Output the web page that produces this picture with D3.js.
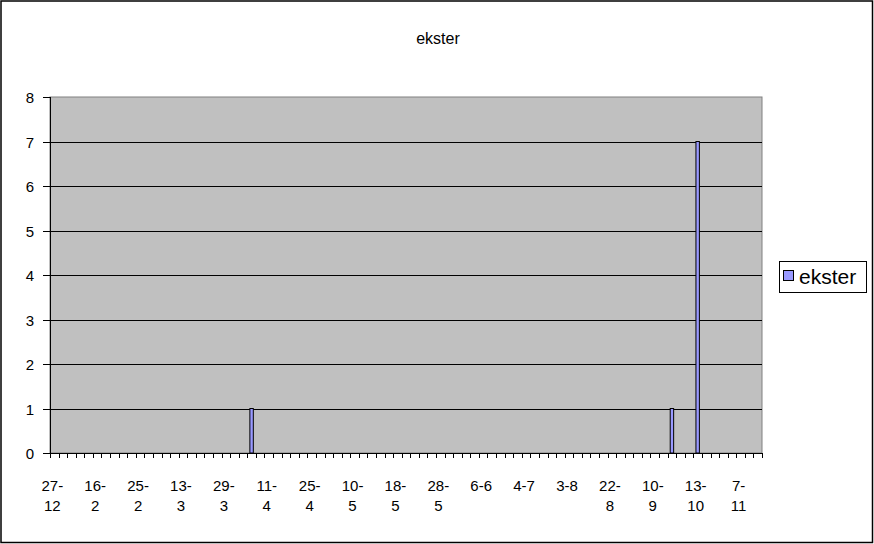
<!DOCTYPE html>
<html>
<head>
<meta charset="utf-8">
<script src="https://cdn.jsdelivr.net/npm/d3@7"></script>
<style>
  html, body { margin: 0; padding: 0; background: #fff; }
  text { font-family: Arial, "Liberation Sans", sans-serif; fill: #000; }
</style>
</head>
<body>
<svg id="chart" width="874" height="544"></svg>
<script>
const title = "ekster";
const seriesName = "ekster";
const categories = [
  "27-12","5-1","12-1","26-1","8-2","16-2","18-2","20-2","22-2","23-2",
  "25-2","28-2","3-3","6-3","10-3","13-3","16-3","19-3","23-3","26-3",
  "29-3","1-4","3-4","5-4","8-4","11-4","14-4","17-4","20-4","22-4",
  "25-4","28-4","1-5","4-5","7-5","10-5","12-5","13-5","15-5","17-5",
  "18-5","20-5","22-5","24-5","26-5","28-5","30-5","1-6","3-6","4-6",
  "6-6","12-6","18-6","24-6","29-6","4-7","10-7","16-7","22-7","28-7",
  "3-8","7-8","11-8","15-8","19-8","22-8","26-8","30-8","3-9","7-9",
  "10-9","13-9","17-9","23-9","30-9","13-10","18-10","22-10","27-10","2-11",
  "7-11","14-11","21-11"
];
const values = [
  0,0,0,0,0,0,0,0,0,0,
  0,0,0,0,0,0,0,0,0,0,
  0,0,0,1,0,0,0,0,0,0,
  0,0,0,0,0,0,0,0,0,0,
  0,0,0,0,0,0,0,0,0,0,
  0,0,0,0,0,0,0,0,0,0,
  0,0,0,0,0,0,0,0,0,0,
  0,0,1,0,0,7,0,0,0,0,
  0,0,0
];
const yTicks = [0,1,2,3,4,5,6,7,8];
const labelEvery = 5;

const svg = d3.select("#chart");
const W = 874, H = 544;
const plot = {left: 50, right: 762, top: 97, bottom: 453};
const AX = 15.5, SX = 0.97;

// chart border
svg.append("rect").attr("x", 1).attr("y", 1).attr("width", W - 2.5).attr("height", H - 2.5)
  .attr("fill", "#fff").attr("stroke", "#000").attr("stroke-width", 1.5);

// title
svg.append("text").attr("x", 438).attr("y", 44).attr("text-anchor", "middle")
  .style("font-size", "16px").text(title);

const x = d3.scaleBand().domain(d3.range(categories.length))
  .range([plot.left, plot.right]).paddingInner(0.6).paddingOuter(0.3);
const y = d3.scaleLinear().domain([0, 8]).range([plot.bottom, plot.top]);
const step = x.step();
const cx = i => x(i) + x.bandwidth() / 2;
const boundary = i => x(0) - x.paddingOuter() * step + i * step;

// plot area
svg.append("rect").attr("x", plot.left).attr("y", plot.top)
  .attr("width", plot.right - plot.left).attr("height", plot.bottom - plot.top)
  .attr("fill", "#C0C0C0").attr("stroke", "#808080").attr("stroke-width", 1);

// gridlines
svg.append("g").selectAll("line").data(yTicks.filter(d => d > 0 && d < 8)).join("line")
  .attr("x1", plot.left).attr("x2", plot.right)
  .attr("y1", d => Math.round(y(d)) + 0.5).attr("y2", d => Math.round(y(d)) + 0.5)
  .attr("stroke", "#000").attr("stroke-width", 1);

// bars
svg.append("g").selectAll("rect").data(values.map((v, i) => ({v, i})).filter(d => d.v > 0)).join("rect")
  .attr("x", d => x(d.i)).attr("width", x.bandwidth())
  .attr("y", d => y(d.v)).attr("height", d => y(0) - y(d.v))
  .attr("fill", "#9999FF").attr("stroke", "#000").attr("stroke-width", 1);

// y axis
const ya = svg.append("g");
ya.append("line").attr("x1", plot.left + 0.5).attr("x2", plot.left + 0.5)
  .attr("y1", plot.top).attr("y2", plot.bottom).attr("stroke", "#000");
ya.selectAll("line.t").data(yTicks).join("line").attr("class", "t")
  .attr("x1", plot.left - 7).attr("x2", plot.left)
  .attr("y1", d => Math.round(y(d)) + 0.5).attr("y2", d => Math.round(y(d)) + 0.5)
  .attr("stroke", "#000");
ya.selectAll("text").data(yTicks).join("text")
  .attr("transform", d => `translate(${plot.left - 16},${y(d) + 6}) scale(${SX},1)`)
  .attr("text-anchor", "end").style("font-size", AX + "px").text(d => d);

// x axis
const xa = svg.append("g");
xa.append("line").attr("x1", plot.left).attr("x2", plot.right)
  .attr("y1", plot.bottom + 0.5).attr("y2", plot.bottom + 0.5).attr("stroke", "#000");
xa.selectAll("line.t").data(d3.range(categories.length + 1)).join("line").attr("class", "t")
  .attr("x1", i => Math.round(boundary(i)) + 0.5).attr("x2", i => Math.round(boundary(i)) + 0.5)
  .attr("y1", plot.bottom).attr("y2", plot.bottom + 5).attr("stroke", "#000");
const shown = d3.range(0, categories.length, labelEvery);
const lbl = xa.selectAll("text").data(shown).join("text")
  .attr("text-anchor", "middle").style("font-size", AX + "px")
  .attr("transform", i => `translate(${cx(i) - 2},0) scale(${SX},1)`);
lbl.each(function(i) {
  const s = categories[i];
  const t = d3.select(this);
  const lines = s.length > 3 ? [s.slice(0, s.indexOf("-") + 1), s.slice(s.indexOf("-") + 1)] : [s];
  lines.forEach((ln, k) => {
    t.append("tspan").attr("x", 0).attr("y", 491 + k * 20).text(ln);
  });
});

// legend
const lg = svg.append("g");
lg.append("rect").attr("x", 779.5).attr("y", 261.5).attr("width", 87).attr("height", 31)
  .attr("fill", "#fff").attr("stroke", "#000");
lg.append("rect").attr("x", 783.5).attr("y", 270.5).attr("width", 10).attr("height", 10)
  .attr("fill", "#9999FF").attr("stroke", "#000");
lg.append("text").attr("x", 799).attr("y", 284).style("font-size", "21px").text(seriesName);
</script>
</body>
</html>
